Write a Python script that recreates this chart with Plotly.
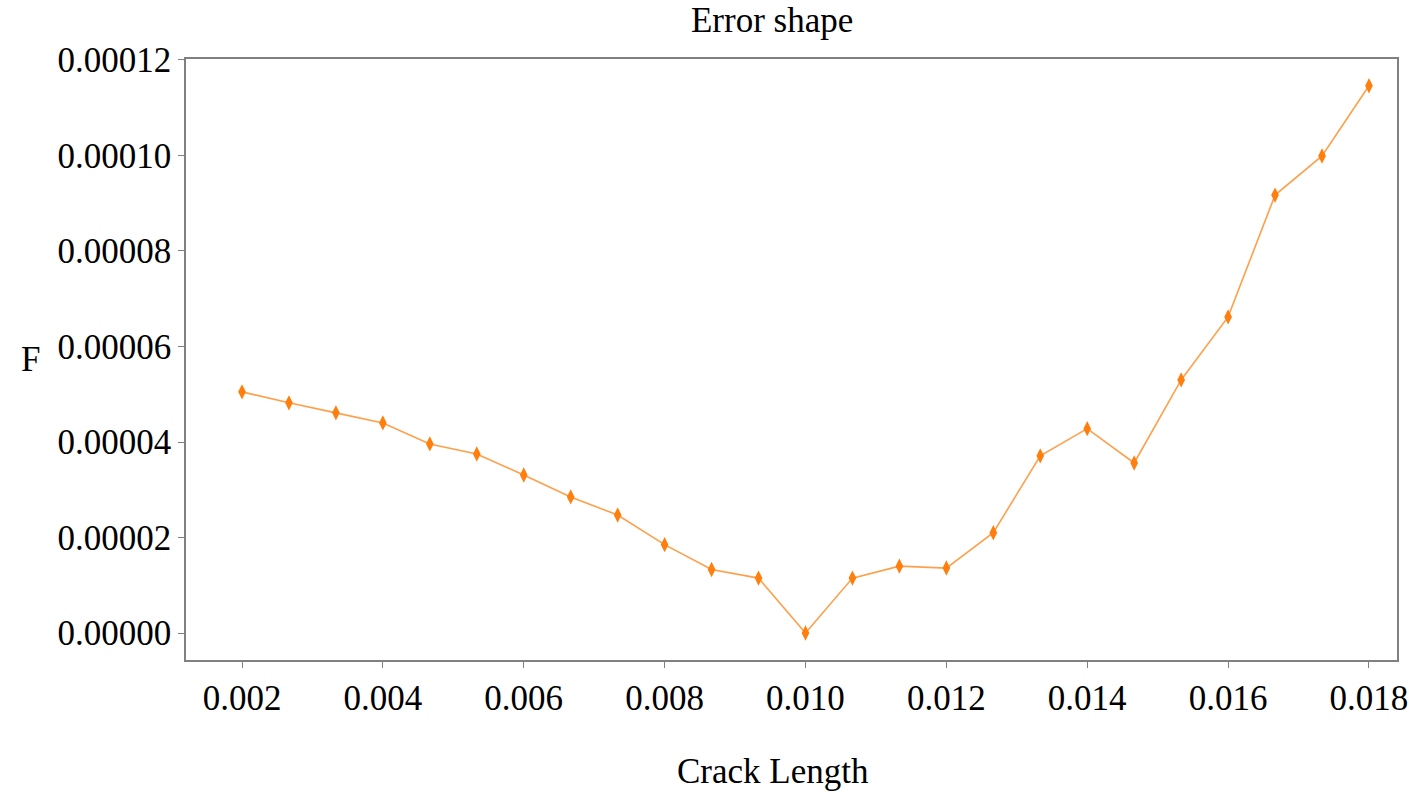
import plotly.graph_objects as go

# Crack length samples and the corresponding error value F
crack_length = [0.002, 0.0026667, 0.0033333, 0.004, 0.0046667, 0.0053333, 0.006,
                0.0066667, 0.0073333, 0.008, 0.0086667, 0.0093333, 0.010,
                0.0106667, 0.0113333, 0.012, 0.0126667, 0.0133333, 0.014,
                0.0146667, 0.0153333, 0.016, 0.0166667, 0.0173333, 0.018]
error_f = [5.05e-5, 4.82e-5, 4.61e-5, 4.40e-5, 3.96e-5, 3.75e-5, 3.31e-5,
           2.85e-5, 2.47e-5, 1.85e-5, 1.33e-5, 1.15e-5, 0.0,
           1.15e-5, 1.40e-5, 1.36e-5, 2.10e-5, 3.71e-5, 4.28e-5,
           3.56e-5, 5.30e-5, 6.62e-5, 9.17e-5, 9.99e-5, 1.146e-4]

x_ticks = [0.002, 0.004, 0.006, 0.008, 0.010, 0.012, 0.014, 0.016, 0.018]
x_tick_text = ["0.002", "0.004", "0.006", "0.008", "0.010", "0.012", "0.014", "0.016", "0.018"]
y_ticks = [0.0, 0.00002, 0.00004, 0.00006, 0.00008, 0.00010, 0.00012]
y_tick_text = ["0.00000", "0.00002", "0.00004", "0.00006", "0.00008", "0.00010", "0.00012"]

ORANGE = "#ff7f0e"
FONT = "Liberation Serif, Times New Roman, serif"
TEXT_FONT = dict(family=FONT, size=35, color="black")

fig = go.Figure()
fig.add_trace(go.Scatter(
    x=crack_length, y=error_f, mode="lines",
    line=dict(color="rgba(255,127,14,0.75)", width=1.6),
    showlegend=False, hoverinfo="skip",
))
fig.add_trace(go.Scatter(
    x=crack_length, y=error_f, mode="markers",
    marker=dict(symbol="diamond-tall", size=11, color=ORANGE, line=dict(width=0)),
    showlegend=False,
))

axis_common = dict(
    showline=True, linecolor="#808080", linewidth=1.5, mirror=True,
    showgrid=False, zeroline=False, automargin=False,
    ticks="outside", ticklen=6, tickwidth=1.2, tickcolor="#808080",
    tickfont=TEXT_FONT,
)

fig.update_xaxes(
    range=[0.001205, 0.018398], tickvals=x_ticks, ticktext=x_tick_text,
    **axis_common,
)
fig.update_yaxes(
    range=[-5.65e-6, 0.0001202], tickvals=y_ticks, ticktext=y_tick_text,
    **axis_common,
)

# Axis labels, both drawn upright
fig.add_annotation(text="Crack Length", xref="paper", yref="paper",
                   x=0.485, y=-0.185, xanchor="center", yanchor="middle",
                   showarrow=False, font=TEXT_FONT)
fig.add_annotation(text="F", xref="paper", yref="paper",
                   x=-0.128, y=0.5, xanchor="center", yanchor="middle",
                   showarrow=False, font=TEXT_FONT)

fig.update_layout(
    width=1409, height=792,
    margin=dict(l=186, r=12, t=59, b=132),
    paper_bgcolor="white", plot_bgcolor="white",
    title=dict(text="Error shape", x=0.548, xanchor="center", y=0.975, yanchor="middle",
               font=TEXT_FONT),
)

fig.write_html("out.html")
